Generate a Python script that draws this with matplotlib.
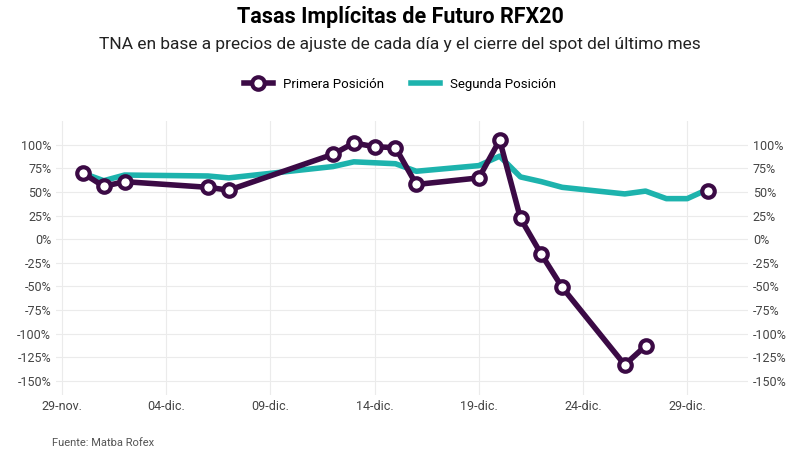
import numpy as np
import matplotlib.pyplot as plt
from datetime import datetime

plt.rcParams['font.family'] = ['Roboto', 'DejaVu Sans']

p1_dates = ['2021-11-30', '2021-12-01', '2021-12-02', '2021-12-06', '2021-12-07', '2021-12-12',
            '2021-12-13', '2021-12-14', '2021-12-15', '2021-12-16', '2021-12-19', '2021-12-20',
            '2021-12-21', '2021-12-22', '2021-12-23', '2021-12-26', '2021-12-27']
p1_vals = [70, 56, 61, 55, 52, 90, 102, 98, 97, 58, 65, 105, 22, -16, -51, -133, -113]
p1_last_date = '2021-12-30'
p1_last_val = 51

p2_dates = ['2021-11-30', '2021-12-01', '2021-12-02', '2021-12-06', '2021-12-07', '2021-12-12',
            '2021-12-13', '2021-12-14', '2021-12-15', '2021-12-16', '2021-12-19', '2021-12-20',
            '2021-12-21', '2021-12-22', '2021-12-23', '2021-12-26', '2021-12-27', '2021-12-28',
            '2021-12-29', '2021-12-30']
p2_vals = [70, 62, 68, 67, 65, 77, 82, 81, 80, 72, 78, 88, 66, 61, 55, 48, 51, 43, 43, 53]

purple = '#3b0a45'
teal = '#1db3ad'

d1 = np.array(p1_dates, dtype='datetime64[D]')
d2 = np.array(p2_dates, dtype='datetime64[D]')

fig = plt.figure(figsize=(8, 4.57), dpi=100)
ax = fig.add_axes([0.07, 0.1357, 0.865, 0.599])
ax.plot(d2, p2_vals, color=teal, lw=4, label='Segunda Posición', zorder=2)
ax.plot(d1, p1_vals, color=purple, lw=4, marker='o', ms=9, mfc='white', mew=3,
        label='Primera Posición', zorder=3)
ax.plot(np.array([p1_last_date], dtype='datetime64[D]'), [p1_last_val], color=purple,
        marker='o', ms=9, mfc='white', mew=3, lw=0, zorder=3)

ax.set_ylim(-165, 125)
ax.set_xlim(datetime(2021, 11, 28, 17), datetime(2021, 12, 31, 22))
yt = np.arange(-150, 101, 25)
ax.set_yticks(yt)
ax.set_yticklabels([f'{v}%' for v in yt])
xt = np.array(['2021-11-29', '2021-12-04', '2021-12-09', '2021-12-14',
               '2021-12-19', '2021-12-24', '2021-12-29'], dtype='datetime64[D]')
ax.set_xticks(xt)
ax.set_xticklabels(['29-nov.', '04-dic.', '09-dic.', '14-dic.', '19-dic.', '24-dic.', '29-dic.'])
ax.tick_params(length=0, labelsize=9, colors='#444444', labelright=True)
ax.grid(True, color='#ebebeb', lw=0.8)
for s in ax.spines.values():
    s.set_visible(False)

h, l = ax.get_legend_handles_labels()
fig.legend(h[::-1], l[::-1], loc='center', bbox_to_anchor=(0.5, 0.816), ncol=2, frameon=False,
           fontsize=9.5, handlelength=2.2, columnspacing=2)
fig.text(0.5, 0.963, 'Tasas Implícitas de Futuro RFX20', ha='center', va='center',
         fontsize=15.5, fontweight='bold')
fig.text(0.5, 0.902, 'TNA en base a precios de ajuste de cada día y el cierre del spot del último mes',
         ha='center', va='center', fontsize=12.5, color='#222222')
fig.text(0.065, 0.025, 'Fuente: Matba Rofex', fontsize=8, color='#555555')
fig.savefig('out.png', dpi=100)
